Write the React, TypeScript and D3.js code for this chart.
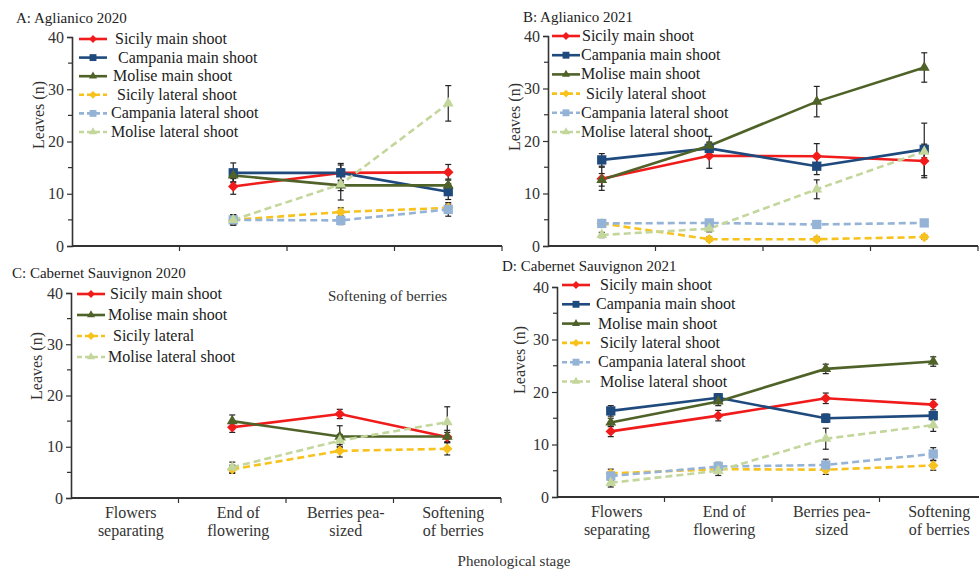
import React, { useEffect, useRef } from "react";
import * as d3 from "d3";

// Phenological stages (x categories)
const stages = ["Flowers separating", "End of flowering", "Berries pea-sized", "Softening of berries"];
const stageLines = [
  ["Flowers", "separating"],
  ["End of", "flowering"],
  ["Berries pea-", "sized"],
  ["Softening", "of berries"],
];
const yTicks = [0, 10, 20, 30, 40];
const yMinorTicks = [5, 15, 25, 35];

// A: Aglianico 2020 (null = not measured)
const aSicilyMain = [null, 11.4, 14, 14.1];
const aCampaniaMain = [null, 14, 14, 10.4];
const aMoliseMain = [null, 13.5, 11.6, 11.6];
const aSicilyLat = [null, 5, 6.5, 7.3];
const aCampaniaLat = [null, 5, 4.9, 7];
const aMoliseLat = [null, 5, 11.8, 27.3];
const aSicilyMainErr = [0, 1.5, 1.5, 1.5];
const aCampaniaMainErr = [0, 1.9, 1.8, 1.5];
const aMoliseMainErr = [0, 1.2, 1, 1.2];
const aSicilyLatErr = [0, 0.8, 0.8, 0.7];
const aCampaniaLatErr = [0, 1, 0.8, 1.3];
const aMoliseLatErr = [0, 1, 3, 3.4];

// B: Aglianico 2021
const bSicilyMain = [12.8, 17.2, 17.1, 16.2];
const bCampaniaMain = [16.4, 18.6, 15.2, 18.4];
const bMoliseMain = [12.6, 19.1, 27.5, 34];
const bSicilyLat = [4.3, 1.3, 1.3, 1.7];
const bCampaniaLat = [4.3, 4.4, 4.1, 4.4];
const bMoliseLat = [2.1, 3.3, 10.8, 18];
const bSicilyMainErr = [2.2, 2.4, 2.4, 3.2];
const bCampaniaMainErr = [1.2, 1.2, 1.6, 5];
const bMoliseMainErr = [1.2, 1.8, 2.9, 2.8];
const bSicilyLatErr = [0.6, 0.4, 0.4, 0.4];
const bCampaniaLatErr = [0.4, 0.4, 0.4, 0.4];
const bMoliseLatErr = [0.5, 0.6, 1.8, 1.2];

// C: Cabernet Sauvignon 2020
const cSicilyMain = [null, 13.8, 16.4, 11.9];
const cMoliseMain = [null, 15, 12, 12];
const cSicilyLat = [null, 5.6, 9.2, 9.6];
const cMoliseLat = [null, 6, 11.2, 14.8];
const cSicilyMainErr = [0, 1, 0.9, 0.9];
const cMoliseMainErr = [0, 1.2, 2.1, 1.2];
const cSicilyLatErr = [0, 0.8, 1.2, 1.2];
const cMoliseLatErr = [0, 1, 1.2, 3];

// D: Cabernet Sauvignon 2021
const dSicilyMain = [12.5, 15.5, 18.8, 17.6];
const dCampaniaMain = [16.4, 18.9, 15, 15.5];
const dMoliseMain = [14.2, 18.2, 24.4, 25.8];
const dSicilyLat = [4.5, 5.3, 5.2, 6];
const dCampaniaLat = [4, 5.8, 6.1, 8.2];
const dMoliseLat = [2.7, 5, 11.1, 13.7];
const dSicilyMainErr = [1, 1, 1, 1];
const dCampaniaMainErr = [1, 0.8, 0.8, 0.8];
const dMoliseMainErr = [0.8, 0.8, 0.9, 0.9];
const dSicilyLatErr = [0.8, 0.8, 0.9, 0.9];
const dCampaniaLatErr = [0.8, 0.8, 1.1, 1.2];
const dMoliseLatErr = [0.8, 0.9, 2, 1.2];

const styles = {
  sicilyMain: { color: "#f01c1c", dash: null, marker: "diamond" },
  campaniaMain: { color: "#1f4a7d", dash: null, marker: "square" },
  moliseMain: { color: "#4f6228", dash: null, marker: "triangle" },
  sicilyLat: { color: "#f8c21c", dash: "7,4", marker: "diamond" },
  campaniaLat: { color: "#95b3d7", dash: "7,4", marker: "square" },
  moliseLat: { color: "#c3d69b", dash: "7,4", marker: "triangle" },
};

const panels = [
  {
    title: "A: Aglianico 2020",
    titleX: 16, titleY: 23,
    x0: 72, x1: 502, top: 37, bottom: 246,
    labelX: 44, labelY: 115,
    showStages: false,
    legendX: 79, legendY: 39, legendStep: 18.6, textX: 115,
    series: [
      { key: "sicilyMain", name: "Sicily main shoot", v: aSicilyMain, e: aSicilyMainErr, indent: 0 },
      { key: "campaniaMain", name: "Campania main shoot", v: aCampaniaMain, e: aCampaniaMainErr, indent: 3 },
      { key: "moliseMain", name: "Molise main shoot", v: aMoliseMain, e: aMoliseMainErr, indent: -2 },
      { key: "sicilyLat", name: "Sicily lateral shoot", v: aSicilyLat, e: aSicilyLatErr, indent: 2 },
      { key: "campaniaLat", name: "Campania lateral shoot", v: aCampaniaLat, e: aCampaniaLatErr, indent: -4 },
      { key: "moliseLat", name: "Molise lateral shoot", v: aMoliseLat, e: aMoliseLatErr, indent: -4 },
    ],
  },
  {
    title: "B: Aglianico 2021",
    titleX: 523, titleY: 22,
    x0: 548, x1: 978, top: 36, bottom: 246,
    labelX: 520, labelY: 117,
    showStages: false,
    legendX: 552, legendY: 36, legendStep: 19.2, textX: 582,
    series: [
      { key: "sicilyMain", name: "Sicily main shoot", v: bSicilyMain, e: bSicilyMainErr, indent: 0 },
      { key: "campaniaMain", name: "Campania main shoot", v: bCampaniaMain, e: bCampaniaMainErr, indent: -1 },
      { key: "moliseMain", name: "Molise main shoot", v: bMoliseMain, e: bMoliseMainErr, indent: -1 },
      { key: "sicilyLat", name: "Sicily lateral shoot", v: bSicilyLat, e: bSicilyLatErr, indent: 4 },
      { key: "campaniaLat", name: "Campania lateral shoot", v: bCampaniaLat, e: bCampaniaLatErr, indent: -1 },
      { key: "moliseLat", name: "Molise lateral shoot", v: bMoliseLat, e: bMoliseLatErr, indent: -1 },
    ],
  },
  {
    title: "C: Cabernet Sauvignon 2020",
    titleX: 12, titleY: 278,
    x0: 71, x1: 501, top: 293, bottom: 498,
    labelX: 42, labelY: 366,
    showStages: true,
    legendX: 77, legendY: 294, legendStep: 21, textX: 110,
    note: "Softening of berries",
    series: [
      { key: "sicilyMain", name: "Sicily main shoot", v: cSicilyMain, e: cSicilyMainErr, indent: 0 },
      { key: "moliseMain", name: "Molise main shoot", v: cMoliseMain, e: cMoliseMainErr, indent: -2 },
      { key: "sicilyLat", name: "Sicily lateral", v: cSicilyLat, e: cSicilyLatErr, indent: 3 },
      { key: "moliseLat", name: "Molise lateral  shoot", v: cMoliseLat, e: cMoliseLatErr, indent: -2 },
    ],
  },
  {
    title: "D: Cabernet Sauvignon 2021",
    titleX: 502, titleY: 271,
    x0: 557, x1: 987, top: 287, bottom: 497,
    labelX: 525, labelY: 360,
    showStages: true,
    legendX: 562, legendY: 285, legendStep: 19.3, textX: 598,
    series: [
      { key: "sicilyMain", name: "Sicily main shoot", v: dSicilyMain, e: dSicilyMainErr, indent: 2 },
      { key: "campaniaMain", name: "Campania main shoot", v: dCampaniaMain, e: dCampaniaMainErr, indent: -2 },
      { key: "moliseMain", name: "Molise main shoot", v: dMoliseMain, e: dMoliseMainErr, indent: 0 },
      { key: "sicilyLat", name: "Sicily lateral shoot", v: dSicilyLat, e: dSicilyLatErr, indent: 2 },
      { key: "campaniaLat", name: "Campania lateral  shoot", v: dCampaniaLat, e: dCampaniaLatErr, indent: 0 },
      { key: "moliseLat", name: "Molise lateral  shoot", v: dMoliseLat, e: dMoliseLatErr, indent: 2 },
    ],
  },
];

const FONT = "'Liberation Serif', 'DejaVu Serif', serif";

function markerPath(type, size) {
  const sym = type === "diamond" ? d3.symbolDiamond2 : type === "square" ? d3.symbolSquare2 : d3.symbolTriangle2;
  return d3.symbol().type(sym).size(size)();
}

const markerSize = { diamond: 70, square: 110, triangle: 85 };

const App = () => {
  const ref = useRef(null);

  useEffect(() => {
    const svg = d3.select(ref.current);
    svg.selectAll("*").remove();

    panels.forEach((p) => {
      const g = svg.append("g");
      const x = d3.scaleBand().domain(stages).range([p.x0, p.x1]).padding(0);
      const y = d3.scaleLinear().domain([0, 40]).range([p.bottom, p.top]);
      const cx = (i) => x(stages[i]) + x.bandwidth() / 2;

      // title
      g.append("text")
        .attr("x", p.titleX)
        .attr("y", p.titleY)
        .attr("font-family", FONT)
        .attr("font-size", 15)
        .attr("fill", "#222")
        .text(p.title);

      // y axis
      const yAxis = g.append("g").attr("transform", `translate(${p.x0},0)`);
      yAxis.call(d3.axisLeft(y).tickValues(yTicks).tickSize(5).tickPadding(3));
      yAxis.selectAll("text").attr("font-family", FONT).attr("font-size", 16).attr("fill", "#333");
      yAxis.select(".domain").attr("stroke", "#333").attr("stroke-width", 1.6);
      yAxis.selectAll(".tick line").attr("stroke", "#333").attr("stroke-width", 1.2);
      g.selectAll(".yminor")
        .data(yMinorTicks)
        .enter()
        .append("line")
        .attr("x1", p.x0 - 4)
        .attr("x2", p.x0)
        .attr("y1", (d) => y(d))
        .attr("y2", (d) => y(d))
        .attr("stroke", "#333")
        .attr("stroke-width", 1.2);

      // x axis
      g.append("line")
        .attr("x1", p.x0)
        .attr("x2", p.x1)
        .attr("y1", p.bottom)
        .attr("y2", p.bottom)
        .attr("stroke", "#333")
        .attr("stroke-width", 1.8);
      g.selectAll(".xtick")
        .data(stages)
        .enter()
        .append("line")
        .attr("x1", (d) => x(d) + x.bandwidth())
        .attr("x2", (d) => x(d) + x.bandwidth())
        .attr("y1", p.bottom)
        .attr("y2", p.bottom + 5)
        .attr("stroke", "#333")
        .attr("stroke-width", 1.2);

      if (p.showStages) {
        stageLines.forEach((lines, i) => {
          lines.forEach((t, j) => {
            g.append("text")
              .attr("x", cx(i) + 6)
              .attr("y", p.bottom + 20 + j * 18)
              .attr("text-anchor", "middle")
              .attr("font-family", FONT)
              .attr("font-size", 16)
              .attr("fill", "#333")
              .text(t);
          });
        });
      }

      // y label
      g.append("text")
        .attr("transform", `translate(${p.labelX},${p.labelY}) rotate(-90)`)
        .attr("text-anchor", "middle")
        .attr("font-family", FONT)
        .attr("font-size", 16)
        .attr("fill", "#333")
        .text("Leaves (n)");

      if (p.note) {
        g.append("text")
          .attr("x", 328)
          .attr("y", p.top + 8)
          .attr("font-family", FONT)
          .attr("font-size", 15)
          .attr("fill", "#333")
          .text(p.note);
      }

      // lines
      p.series.forEach((s) => {
        const st = styles[s.key];
        const pts = s.v.map((v, i) => ({ v, i })).filter((d) => d.v != null);
        const line = d3.line().x((d) => cx(d.i)).y((d) => y(d.v));
        g.append("path")
          .datum(pts)
          .attr("fill", "none")
          .attr("stroke", st.color)
          .attr("stroke-width", 2.6)
          .attr("stroke-dasharray", st.dash)
          .attr("d", line);
      });

      // error bars
      p.series.forEach((s) => {
        const pts = s.v.map((v, i) => ({ v, i, e: s.e[i] })).filter((d) => d.v != null);
        pts.forEach((d) => {
          const xx = cx(d.i);
          g.append("line")
            .attr("x1", xx).attr("x2", xx)
            .attr("y1", y(d.v - d.e)).attr("y2", y(d.v + d.e))
            .attr("stroke", "#222").attr("stroke-width", 1.2);
          [d.v - d.e, d.v + d.e].forEach((yy) => {
            g.append("line")
              .attr("x1", xx - 3).attr("x2", xx + 3)
              .attr("y1", y(yy)).attr("y2", y(yy))
              .attr("stroke", "#222").attr("stroke-width", 1.2);
          });
        });
      });

      // markers
      p.series.forEach((s) => {
        const st = styles[s.key];
        const pts = s.v.map((v, i) => ({ v, i })).filter((d) => d.v != null);
        g.selectAll(null)
          .data(pts)
          .enter()
          .append("path")
          .attr("d", markerPath(st.marker, markerSize[st.marker]))
          .attr("transform", (d) => `translate(${cx(d.i)},${y(d.v)})`)
          .attr("fill", st.color);
      });

      // legend
      p.series.forEach((s, k) => {
        const st = styles[s.key];
        const ly = p.legendY + k * p.legendStep;
        g.append("line")
          .attr("x1", p.legendX)
          .attr("x2", p.legendX + 28)
          .attr("y1", ly)
          .attr("y2", ly)
          .attr("stroke", st.color)
          .attr("stroke-width", 2.6)
          .attr("stroke-dasharray", st.dash ? "5,3" : null);
        g.append("path")
          .attr("d", markerPath(st.marker, markerSize[st.marker] * 0.55))
          .attr("transform", `translate(${p.legendX + 14},${ly})`)
          .attr("fill", st.color);
        g.append("text")
          .attr("x", p.textX + s.indent)
          .attr("y", ly + 5)
          .attr("font-family", FONT)
          .attr("font-size", 16)
          .attr("fill", "#222")
          .text(s.name);
      });
    });

    svg.append("text")
      .attr("x", 514)
      .attr("y", 566)
      .attr("text-anchor", "middle")
      .attr("font-family", FONT)
      .attr("font-size", 15)
      .attr("fill", "#333")
      .text("Phenological stage");
  }, []);

  return (
    <svg
      ref={ref}
      width={979}
      height={572}
      style={{ position: "absolute", left: 0, top: 0, background: "#fff" }}
    ></svg>
  );
};

export default App;
